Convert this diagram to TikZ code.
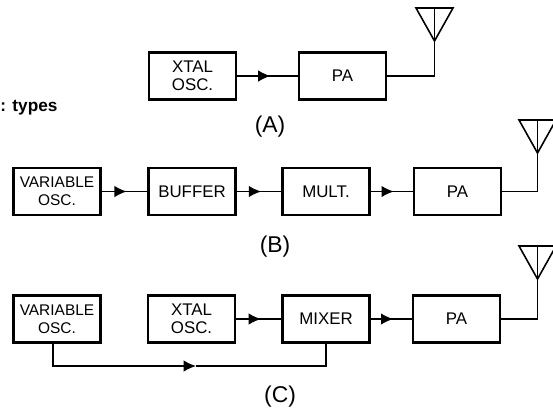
\documentclass[tikz,border=0pt]{standalone}
\usepackage{fontspec}
\setmainfont{Liberation Sans}
\usetikzlibrary{arrows.meta,decorations.markings}
\tikzset{
  blockbox/.style={draw, line width=1.3pt, fill=white, align=center, inner sep=1pt, minimum width=1.74cm, minimum height=0.94cm, font=\fontsize{9.6}{10.5}\selectfont},
  varbox/.style={blockbox, font=\fontsize{8.8}{10}\selectfont},
  wire/.style={line width=0.9pt},
  flow/.style={wire, postaction={decorate}, decoration={markings, mark=at position 0.55 with {\arrow{Latex[length=7pt,width=6.5pt]}}}},
  caption/.style={inner sep=0pt, font=\fontsize{13}{14}\selectfont},
  antenna/.pic={
    \draw[wire] (-18.5,0) -- (18.5,0) -- (0,33) -- cycle;
  }
}
\begin{document}
\begin{tikzpicture}[x=0.02cm, y=-0.02cm]
  \useasboundingbox (0,0) rectangle (553,413);
  \node[inner sep=0pt, anchor=west, font=\fontsize{9.8}{10}\bfseries\selectfont] (kinds) at (0,108) {: types};
  % (A)
  \node[blockbox] (xtala) at (192.5,76) {XTAL\\OSC.};
  \node[blockbox] (paa) at (342.5,76) {PA};
  \coordinate (anta) at (434.5,8);
  \draw[flow] (xtala) -- (paa);
  \draw[wire] (paa) -| (anta);
  \pic at (anta) {antenna};
  \node[caption] (capa) at (270,127) {(A)};
  % (B)
  \node[varbox] (varb) at (57,191.5) {VARIABLE\\OSC.};
  \node[blockbox] (bufb) at (192,191.5) {BUFFER};
  \node[blockbox] (mulb) at (326,191.5) {MULT.};
  \node[blockbox] (pab) at (457.5,191.5) {PA};
  \coordinate (antb) at (537.5,120);
  \draw[flow] (varb) -- (bufb);
  \draw[flow] (bufb) -- (mulb);
  \draw[flow] (mulb) -- (pab);
  \draw[wire] (pab) -| (antb);
  \pic at (antb) {antenna};
  \node[caption] (capb) at (275,247) {(B)};
  % (C)
  \node[varbox] (varc) at (57,319) {VARIABLE\\OSC.};
  \node[blockbox] (xtalc) at (191.5,319) {XTAL\\OSC.};
  \node[blockbox] (mixc) at (326,319) {MIXER};
  \node[blockbox] (pac) at (456.5,319) {PA};
  \coordinate (antc) at (537.5,246);
  \coordinate (busc) at (196,366);
  \draw[flow] (xtalc) -- (mixc);
  \draw[flow] (mixc) -- (pac);
  \draw[wire] (pac) -| (antc);
  \pic at (antc) {antenna};
  \draw[wire, -{Latex[length=7pt,width=6.5pt]}] ([xshift=-2.3pt]varc.south) |- (busc);
  \draw[wire] (busc) -| (mixc.south);
  \node[caption] (capc) at (280,397) {(C)};
\end{tikzpicture}
\end{document}
